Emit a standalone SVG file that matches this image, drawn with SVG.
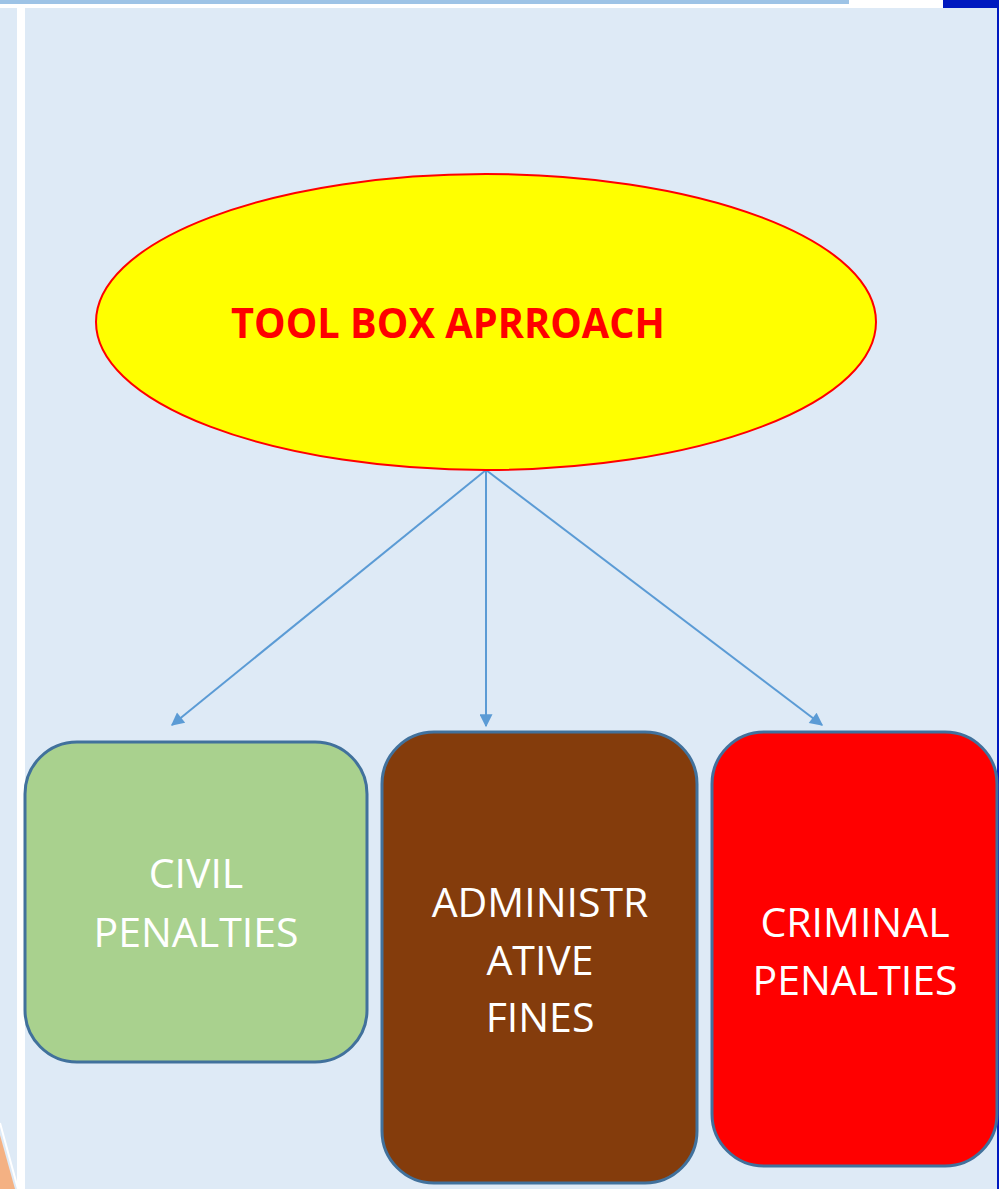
<svg xmlns="http://www.w3.org/2000/svg" width="999" height="1189" viewBox="0 0 999 1189">
<defs>
<style>
.box{stroke:#41719C;stroke-width:3}
.lbl{font-family:"Open Sans","Liberation Sans",sans-serif;font-size:41px;fill:#FFFFFF;text-anchor:middle}
.conn{stroke:#5B9BD5;stroke-width:2;fill:none}
</style>
<marker id="ah" viewBox="0 0 10 10" refX="9" refY="5" markerWidth="15" markerHeight="13" markerUnits="userSpaceOnUse" orient="auto">
<path d="M0,0 L10,5 L0,10 z" fill="#5B9BD5"/>
</marker>
</defs>
<rect x="0" y="0" width="999" height="1189" fill="#FFFFFF"/>
<rect x="0" y="0" width="849" height="4" fill="#9DC3E6"/>
<rect x="943" y="0" width="56" height="8" fill="#0019BF"/>
<rect x="0" y="8" width="17" height="1181" fill="#DEEAF6"/>
<rect x="25" y="8" width="973" height="1181" fill="#DEEAF6"/>
<rect x="997" y="0" width="2" height="1189" fill="#0019BF"/>
<polygon points="0,1135 15,1189 0,1189" fill="#F4B183"/>
<line x1="0" y1="1123" x2="18" y2="1189" stroke="#FFFFFF" stroke-width="2"/>

<g id="connectors">
<line class="conn" x1="486" y1="470" x2="172" y2="725" marker-end="url(#ah)"/>
<line class="conn" x1="486" y1="470" x2="486" y2="726" marker-end="url(#ah)"/>
<line class="conn" x1="486" y1="470" x2="822" y2="725" marker-end="url(#ah)"/>
</g>

<g id="toolbox">
<ellipse cx="486" cy="322" rx="390" ry="148" fill="#FFFF00" stroke="#FF0000" stroke-width="2"/>
<text x="448" y="338" font-family="'Open Sans','Liberation Sans',sans-serif" font-weight="bold" font-size="42" fill="#FF0000" text-anchor="middle" textLength="434" lengthAdjust="spacingAndGlyphs">TOOL BOX APRROACH</text>
</g>

<g id="civil">
<rect class="box" x="25" y="742" width="342" height="320" rx="52" ry="52" fill="#A9D18E"/>
<text class="lbl" x="196" y="888">CIVIL</text>
<text class="lbl" x="196" y="947">PENALTIES</text>
</g>

<g id="admin">
<rect class="box" x="382" y="732" width="315" height="451" rx="52" ry="52" fill="#843C0C"/>
<text class="lbl" x="540" y="917">ADMINISTR</text>
<text class="lbl" x="540" y="975">ATIVE</text>
<text class="lbl" x="540" y="1032">FINES</text>
</g>

<g id="criminal">
<rect class="box" x="712" y="732" width="285" height="434" rx="52" ry="52" fill="#FF0000"/>
<text class="lbl" x="855" y="937">CRIMINAL</text>
<text class="lbl" x="855" y="995">PENALTIES</text>
</g>
</svg>
